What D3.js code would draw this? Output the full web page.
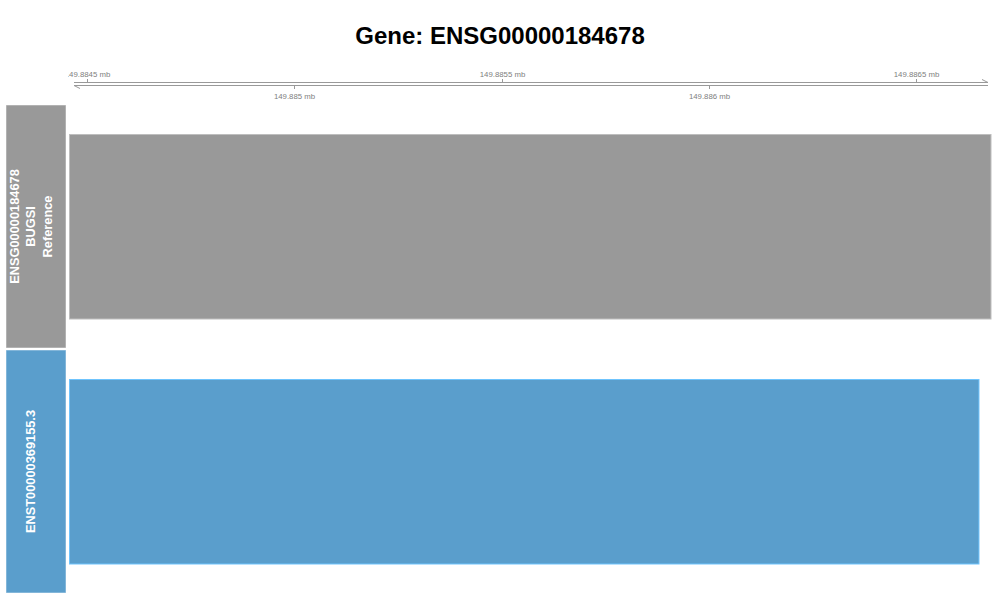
<!DOCTYPE html>
<html><head><meta charset="utf-8">
<script src="https://cdn.jsdelivr.net/npm/d3@7"></script>
<style>body{margin:0;background:#fff;}svg{display:block;font-family:"Liberation Sans",Arial,Helvetica,sans-serif;}</style>
</head><body><svg id="c" width="1000" height="600"></svg>
<script>
const title = "Gene: ENSG00000184678";
const tracks = ["ENSG00000184678\nBUGSI\nReference", "ENST00000369155.3"];
const trackColors = ["#999999", "#5A9ECC"];
const featureStart = [149884457, 149884457];
const featureEnd = [149886681, 149886652];
const tickValues = [149884500, 149885000, 149885500, 149886000, 149886500];
const tickLabels = ["149.8845 mb", "149.885 mb", "149.8855 mb", "149.886 mb", "149.8865 mb"];
const viewRange = [149884457, 149886681];

const svg = d3.select("#c");
const x = d3.scaleLinear().domain(viewRange).range([69.5, 991]);

svg.append("text").attr("x", 500).attr("y", 44).attr("text-anchor", "middle")
  .attr("font-size", 24).attr("font-weight", "bold").attr("fill", "#000").text(title);

svg.append("clipPath").attr("id", "clip").append("rect").attr("x", 68).attr("y", 60).attr("width", 932).attr("height", 50);
const ax = svg.append("g").attr("clip-path", "url(#clip)");
const col = "#999";
const y1 = 82.5, y2 = 85.5;
ax.append("line").attr("x1", 74).attr("x2", 988).attr("y1", y1).attr("y2", y1).attr("stroke", col).attr("stroke-width", 1);
ax.append("line").attr("x1", 74).attr("x2", 988).attr("y1", y2).attr("y2", y2).attr("stroke", col).attr("stroke-width", 1);
ax.append("path").attr("d", `M74,${y2} L80,${y2+3}`).attr("stroke", col).attr("fill", "none");
ax.append("path").attr("d", `M988,${y1} L982,${y1-3}`).attr("stroke", col).attr("fill", "none");
tickValues.forEach((v, i) => {
  const px = Math.round(x(v)) + 0.5;
  const top = i % 2 === 0;
  if (top) {
    ax.append("line").attr("x1", px).attr("x2", px).attr("y1", y1).attr("y2", y1 - 3.5).attr("stroke", col);
    ax.append("text").attr("x", px).attr("y", 77).attr("text-anchor", "middle").attr("font-size", 7.8).attr("fill", "#808080").text(tickLabels[i]);
  } else {
    ax.append("line").attr("x1", px).attr("x2", px).attr("y1", y2).attr("y2", y2 + 3.5).attr("stroke", col);
    ax.append("text").attr("x", px).attr("y", 99).attr("text-anchor", "middle").attr("font-size", 7.8).attr("fill", "#808080").text(tickLabels[i]);
  }
});

const panelTop = [105, 350], panelH = 243;
tracks.forEach((t, i) => {
  const c = trackColors[i];
  svg.append("rect").attr("x", 6).attr("y", panelTop[i]).attr("width", 60).attr("height", panelH)
    .attr("fill", c).attr("stroke", "#ffffff").attr("stroke-opacity", 0.5).attr("stroke-width", 1);
  const lines = t.split("\n");
  const cx = 31, cy = panelTop[i] + panelH / 2;
  const g = svg.append("g").attr("transform", `translate(${cx},${cy}) rotate(-90)`);
  const n = lines.length, lh = 16.5;
  lines.forEach((ln, j) => {
    g.append("text").attr("x", 0).attr("y", (j - (n - 1) / 2) * lh).attr("dy", "0.35em")
      .attr("text-anchor", "middle").attr("font-size", 12.8).attr("font-weight", "bold").attr("fill", "#fff").text(ln);
  });
  const fy = panelTop[i] + 29.5;
  svg.append("rect").attr("x", x(featureStart[i])).attr("y", fy)
    .attr("width", x(featureEnd[i]) - x(featureStart[i])).attr("height", 184.5)
    .attr("fill", c).attr("stroke", d3.color(c).brighter(0.6)).attr("stroke-width", 1);
});
</script></body></html>
